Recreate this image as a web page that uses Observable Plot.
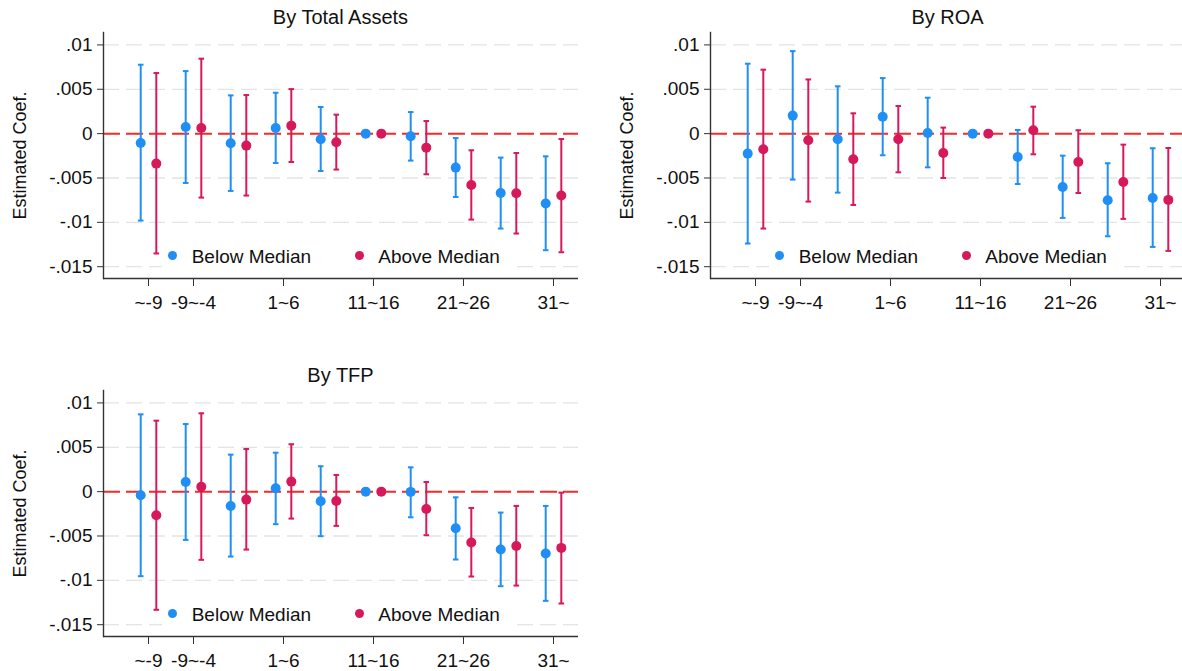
<!DOCTYPE html>
<html>
<head>
<meta charset="utf-8">
<script src="https://cdn.jsdelivr.net/npm/d3@7"></script>
<script src="https://cdn.jsdelivr.net/npm/@observablehq/plot@0.6"></script>
<style>
  body { margin: 0; background: #fff; }
  #wrap { position: relative; width: 1182px; height: 671px; overflow: hidden; background: #fff;
          font-family: "Liberation Sans", Arial, Helvetica, sans-serif; color: #111; }
  .panel { position: absolute; width: 590px; height: 330px; }
  .panel svg { max-width: none !important; }
  .title { position: absolute; font-size: 20px; line-height: 20px; white-space: nowrap; transform: translateX(-50%); }
  .legend { position: absolute; background: #fff; }
  .legend .dot { position: absolute; width: 9px; height: 9px; border-radius: 50%; }
  .legend .lab { position: absolute; font-size: 19px; line-height: 19px; white-space: nowrap; }
</style>
</head>
<body>
<div id="wrap"></div>
<script>
// ---------------- data ----------------
const categories = ["~-9", "-9~-4", "-4~1", "1~6", "6~11", "11~16", "16~21", "21~26", "26~31", "31~"];
const xTickLabels = ["~-9", "-9~-4", "1~6", "11~16", "21~26", "31~"];
const yTicks = [-0.015, -0.01, -0.005, 0, 0.005, 0.01];
const yTickLabels = ["-.015", "-.01", "-.005", "0", ".005", ".01"];
const seriesNames = ["Below Median", "Above Median"];
const seriesColors = ["#1f8ef5", "#d6195b"];
const panelTitles = ["By Total Assets", "By ROA", "By TFP"];
const yLabel = "Estimated Coef.";

// By Total Assets
const taBelowCoef = [-0.00106, 0.00075, -0.00109, 0.00064, -0.00064, 0, -0.0003, -0.00383, -0.00669, -0.00788];
const taBelowLo   = [-0.0098, -0.00556, -0.00646, -0.00331, -0.00421, 0, -0.00304, -0.00714, -0.0107, -0.01314];
const taBelowHi   = [0.00777, 0.00705, 0.00431, 0.00461, 0.003, 0, 0.00243, -0.0005, -0.0027, -0.00256];
const taAboveCoef = [-0.00338, 0.00064, -0.00135, 0.0009, -0.00098, 0, -0.00158, -0.00579, -0.00672, -0.00698];
const taAboveLo   = [-0.01351, -0.00721, -0.00698, -0.0032, -0.00405, 0, -0.00458, -0.00969, -0.01126, -0.01337];
const taAboveHi   = [0.00683, 0.00845, 0.00435, 0.00502, 0.00214, 0, 0.00142, -0.00188, -0.00218, -0.00061];

// By ROA
const roaBelowCoef = [-0.00225, 0.00203, -0.00064, 0.00191, 0.00008, 0, -0.00263, -0.00601, -0.00751, -0.00725];
const roaBelowLo   = [-0.01239, -0.00518, -0.00665, -0.00244, -0.0038, 0, -0.00568, -0.0095, -0.01157, -0.01277];
const roaBelowHi   = [0.00788, 0.0093, 0.00533, 0.00626, 0.00405, 0, 0.00041, -0.00248, -0.00334, -0.00165];
const roaAboveCoef = [-0.00177, -0.00075, -0.00289, -0.00064, -0.00218, 0, 0.00038, -0.0032, -0.00545, -0.00747];
const roaAboveLo   = [-0.0107, -0.00766, -0.00804, -0.00436, -0.005, 0, -0.00233, -0.00669, -0.00961, -0.01322];
const roaAboveHi   = [0.00721, 0.00611, 0.00229, 0.00311, 0.00068, 0, 0.00304, 0.00038, -0.00124, -0.00162];

// By TFP
const tfpBelowCoef = [-0.00041, 0.00109, -0.00161, 0.00038, -0.00108, 0, -0.00003, -0.00413, -0.00653, -0.00698];
const tfpBelowLo   = [-0.00953, -0.00544, -0.00732, -0.00367, -0.00502, 0, -0.00289, -0.00765, -0.01066, -0.01231];
const tfpBelowHi   = [0.00871, 0.00762, 0.00417, 0.00439, 0.00286, 0, 0.00274, -0.00064, -0.00236, -0.00161];
const tfpAboveCoef = [-0.00266, 0.00056, -0.0009, 0.00113, -0.00105, 0, -0.00195, -0.00574, -0.00612, -0.00634];
const tfpAboveLo   = [-0.01332, -0.00769, -0.00653, -0.00304, -0.00386, 0, -0.00491, -0.00957, -0.01059, -0.01261];
const tfpAboveHi   = [0.008, 0.00883, 0.00481, 0.00534, 0.00188, 0, 0.00109, -0.00184, -0.00161, -0.00011];

// ---------------- layout ----------------
const W = 590, H = 330, ML = 103, MR = 12, MT = 32, MB = 52;
const yDomain = [-0.01633, 0.0114];
const offsets = [-7.8, 7.8];

const capSymbol = {
  draw(ctx, size) {
    const h = Math.sqrt(size / Math.PI);
    ctx.moveTo(-h, 0);
    ctx.lineTo(h, 0);
  }
};

function rowsOf(coef, lo, hi) {
  return categories.map((c, i) => ({cat: c, coef: coef[i], lo: lo[i], hi: hi[i]}));
}

function drawPanel(left, top, title, series) {
  const wrap = document.getElementById("wrap");
  const marks = [
    Plot.gridY(yTicks, {stroke: "#e4e4e4", strokeOpacity: 1, strokeWidth: 1.3, strokeDasharray: "16,7"}),
    Plot.ruleY([0], {stroke: "#f22b2b", strokeWidth: 2, strokeDasharray: "17,6"})
  ];
  series.forEach((rows, s) => {
    const ci = rows.filter(d => d.lo !== d.hi);
    marks.push(Plot.ruleX(ci, {x: "cat", y1: "lo", y2: "hi", stroke: seriesColors[s], strokeWidth: 2, dx: offsets[s]}));
    marks.push(Plot.dot(ci, {x: "cat", y: "lo", symbol: capSymbol, r: 2.8, stroke: seriesColors[s], strokeWidth: 2, fill: "none", dx: offsets[s]}));
    marks.push(Plot.dot(ci, {x: "cat", y: "hi", symbol: capSymbol, r: 2.8, stroke: seriesColors[s], strokeWidth: 2, fill: "none", dx: offsets[s]}));
  });
  series.forEach((rows, s) => {
    marks.push(Plot.dot(rows, {x: "cat", y: "coef", r: 5, fill: seriesColors[s], dx: offsets[s]}));
  });
  marks.push(
    Plot.ruleY([yDomain[0]], {stroke: "#333", strokeWidth: 1.4}),
    Plot.frame({anchor: "left", stroke: "#333", strokeWidth: 1.4}),
    Plot.axisX({ticks: xTickLabels, tickSize: 8, tickPadding: 9, fontSize: 19, label: null, stroke: "#333", fill: "#111"}),
    Plot.axisY({ticks: yTicks, tickFormat: d => yTickLabels[yTicks.indexOf(d)], tickSize: 6, tickPadding: 5, fontSize: 19, label: null, stroke: "#333", fill: "#111"}),
    Plot.text([yLabel], {text: d => d, frameAnchor: "left", rotate: -90, dx: -83, fontSize: 18, textAnchor: "middle", lineAnchor: "middle", fill: "#111"})
  );
  const svg = Plot.plot({
    width: W, height: H,
    marginLeft: ML, marginRight: MR, marginTop: MT, marginBottom: MB,
    style: {fontFamily: '"Liberation Sans", Arial, Helvetica, sans-serif', fontSize: "19px", color: "#111", background: "transparent", overflow: "visible", maxWidth: "none"},
    x: {type: "point", domain: categories, padding: 0, insetLeft: 45, insetRight: 25},
    y: {domain: yDomain},
    marks
  });
  const div = document.createElement("div");
  div.className = "panel";
  div.style.left = left + "px";
  div.style.top = top + "px";
  div.appendChild(svg);
  wrap.appendChild(div);

  const t = document.createElement("div");
  t.className = "title";
  t.textContent = title;
  t.style.left = (left + (ML + W - MR) / 2) + "px";
  t.style.top = (top + 7) + "px";
  wrap.appendChild(t);

  const lg = document.createElement("div");
  lg.className = "legend";
  lg.style.left = (left + 162) + "px";
  lg.style.top = (top + 240) + "px";
  lg.style.width = "355px";
  lg.style.height = "32px";
  const dotX = [10.7 - 4.5, 197 - 4.5];
  const labX = [29.7, 216.3];
  seriesNames.forEach((name, s) => {
    const d = document.createElement("div");
    d.className = "dot";
    d.style.background = seriesColors[s];
    d.style.left = dotX[s] + "px";
    d.style.top = (15 - 4.5) + "px";
    lg.appendChild(d);
    const l = document.createElement("div");
    l.className = "lab";
    l.textContent = name;
    l.style.left = labX[s] + "px";
    l.style.top = "6.6px";
    lg.appendChild(l);
  });
  wrap.appendChild(lg);
}

drawPanel(0, 0, panelTitles[0], [rowsOf(taBelowCoef, taBelowLo, taBelowHi), rowsOf(taAboveCoef, taAboveLo, taAboveHi)]);
drawPanel(607, 0, panelTitles[1], [rowsOf(roaBelowCoef, roaBelowLo, roaBelowHi), rowsOf(roaAboveCoef, roaAboveLo, roaAboveHi)]);
drawPanel(0, 358, panelTitles[2], [rowsOf(tfpBelowCoef, tfpBelowLo, tfpBelowHi), rowsOf(tfpAboveCoef, tfpAboveLo, tfpAboveHi)]);
</script>
</body>
</html>
